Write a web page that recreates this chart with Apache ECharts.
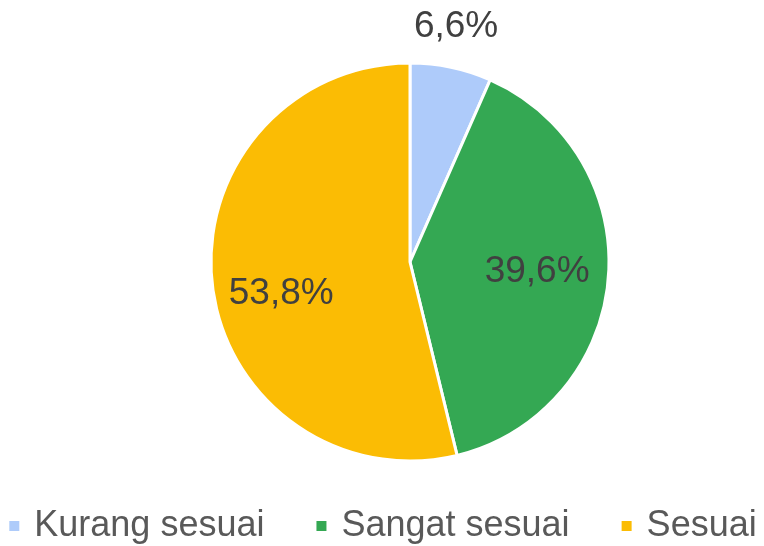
<!DOCTYPE html>
<html>
<head>
<meta charset="utf-8">
<script src="https://cdn.jsdelivr.net/npm/echarts@6/dist/echarts.min.js"></script>
<style>html,body{margin:0;padding:0;background:#fff}#c{width:764px;height:546px}</style>
</head>
<body>
<div id="c"></div>
<script>
var categories = ['Kurang sesuai', 'Sangat sesuai', 'Sesuai'];
var values = [6.6, 39.6, 53.8];
var labelTexts = ['6,6%', '39,6%', '53,8%'];
var colors = ['#aecbfa', '#34a853', '#fbbc04'];
var labelOffsets = [[25, -135], [25, 1], [-27, 20]];

var chart = echarts.init(document.getElementById('c'), null, {renderer: 'canvas'});
var data = categories.map(function (c, i) {
  return {name: c, value: values[i], itemStyle: {color: colors[i]}};
});
chart.setOption({
  animation: false,
  textStyle: {fontFamily: 'Liberation Sans, Arial, sans-serif'},
  legend: {
    data: categories,
    left: 'center',
    top: 508,
    padding: 0,
    itemGap: 50,
    itemWidth: 12,
    itemHeight: 12,
    icon: 'rect',
    textStyle: {fontSize: 36, color: '#595959', padding: [0, 0, 0, 9], fontFamily: 'Liberation Sans, Arial, sans-serif'}
  },
  series: [{
    type: 'pie',
    center: [410, 262],
    radius: 199,
    startAngle: 90,
    clockwise: true,
    data: data,
    itemStyle: {borderColor: '#fff', borderWidth: 3},
    label: {
      show: true,
      position: 'inside',
      fontSize: 37,
      color: '#404040',
      fontFamily: 'Liberation Sans, Arial, sans-serif',
      formatter: function (p) { return labelTexts[p.dataIndex]; }
    },
    labelLine: {show: false},
    labelLayout: function (p) {
      var o = labelOffsets[p.dataIndex];
      return {dx: o[0], dy: o[1]};
    }
  }]
});
</script>
</body>
</html>
